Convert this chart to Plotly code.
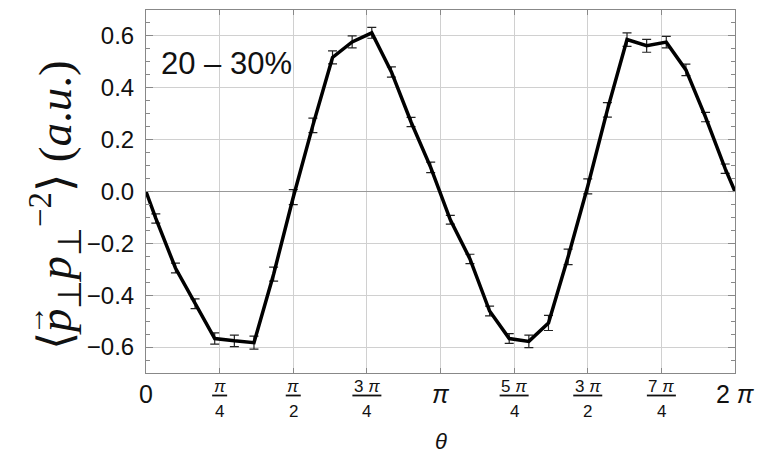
import numpy as np
import plotly.graph_objects as go

# Bin centres (degrees) and measured mean values with their uncertainties
theta_deg = [6, 18, 30, 42, 54, 66, 78, 90, 102, 114, 126, 138, 150, 162, 174,
             186, 198, 210, 222, 234, 246, 258, 270, 282, 294, 306, 318, 330, 342, 354]
values = [-0.104, -0.295, -0.433, -0.567, -0.576, -0.583, -0.319, -0.022, 0.255, 0.517,
          0.577, 0.612, 0.461, 0.268, 0.093, -0.109, -0.260, -0.461, -0.567, -0.578,
          -0.507, -0.252, 0.020, 0.315, 0.586, 0.562, 0.576, 0.469, 0.287, 0.088]
errors = [0.018, 0.019, 0.019, 0.022, 0.022, 0.025, 0.027, 0.029, 0.028, 0.025,
          0.023, 0.021, 0.020, 0.018, 0.020, 0.017, 0.018, 0.019, 0.019, 0.024,
          0.029, 0.030, 0.029, 0.028, 0.026, 0.025, 0.022, 0.022, 0.018, 0.018]

# Periodic closure of the curve at 0 and 2π
edge_theta = [0.0, 2 * np.pi]
edge_values = [0.0, 0.0]

x_tickvals = [0, np.pi / 4, np.pi / 2, 3 * np.pi / 4, np.pi,
              5 * np.pi / 4, 3 * np.pi / 2, 7 * np.pi / 4, 2 * np.pi]
# (numerator, denominator) for each x tick; plain labels have no denominator
x_ticklabels = [("0", None), ("π", "4"), ("π", "2"), ("3 π", "4"), ("π", None),
                ("5 π", "4"), ("3 π", "2"), ("7 π", "4"), ("2 π", None)]
y_tickvals = [-0.6, -0.4, -0.2, 0.0, 0.2, 0.4, 0.6]
y_ticktext = ["−0.6", "−0.4", "−0.2", "0.0", "0.2", "0.4", "0.6"]

centrality_label = "20 – 30%"

x_rad = [np.deg2rad(t) for t in theta_deg]
line_x = [edge_theta[0]] + x_rad + [edge_theta[1]]
line_y = [edge_values[0]] + values + [edge_values[1]]

SANS = "Liberation Sans, Arial, sans-serif"
SERIF = "Liberation Serif, Times New Roman, serif"

fig = go.Figure()

fig.add_trace(go.Scatter(
    x=x_rad, y=values, mode="markers",
    marker=dict(size=1, color="rgba(0,0,0,0)"),
    error_y=dict(type="data", array=errors, visible=True,
                 color="#222222", thickness=1.2, width=4.5),
    showlegend=False, hoverinfo="skip",
))
fig.add_trace(go.Scatter(
    x=line_x, y=line_y, mode="lines",
    line=dict(color="black", width=3.5),
    showlegend=False,
))

# Plot area geometry (pixels) used for placing the hand-set labels
L, R, T, B = 146, 37, 10, 88
W, H = 772, 461
plot_w = W - L - R
plot_h = H - T - B


def px(pix):
    """Convert a pixel column of the page into paper x."""
    return (pix - L) / plot_w


def py(pix):
    """Convert a pixel row of the page into paper y."""
    return (H - B - pix) / plot_h


annotations = []
shapes = []
for xv, (num, den) in zip(x_tickvals, x_ticklabels):
    if den is None:
        txt = num.replace("π", "<i>π</i>")
        annotations.append(dict(x=xv, y=py(394), xref="x", yref="paper",
                                text=txt, showarrow=False, xanchor="center",
                                yanchor="middle",
                                font=dict(family=SANS, size=25, color="#111111")))
    else:
        txt = num.replace("π", "<i>π</i>")
        annotations.append(dict(x=xv, y=py(386.5), xref="x", yref="paper",
                                text=txt, showarrow=False, xanchor="center",
                                yanchor="middle",
                                font=dict(family=SANS, size=17, color="#111111")))
        annotations.append(dict(x=xv, y=py(411.5), xref="x", yref="paper",
                                text=den, showarrow=False, xanchor="center",
                                yanchor="middle",
                                font=dict(family=SANS, size=17, color="#111111")))
        half = 7.5 if len(num) == 1 else 14.5
        shapes.append(dict(type="line", xref="x", yref="paper",
                           xsizemode="pixel", xanchor=xv, x0=-half, x1=half,
                           y0=py(395.5), y1=py(395.5),
                           line=dict(color="#111111", width=1.8)))

# x-axis title
annotations.append(dict(x=np.pi, y=py(441), xref="x", yref="paper",
                        text="<i>θ</i>", showarrow=False, xanchor="center",
                        yanchor="middle",
                        font=dict(family=SANS, size=22, color="#111111")))

# y-axis title (rotated), with the vector arrow set over the first p
annotations.append(dict(x=px(55), y=py(205), xref="paper", yref="paper",
                        text="⟨<i>p</i><sub>⊥</sub><i>p</i><sub>⊥</sub><sup>−2</sup>⟩ (<i>a</i>.<i>u</i>.)",
                        textangle=-90, showarrow=False, xanchor="center",
                        yanchor="middle",
                        font=dict(family=SERIF, size=47, color="#111111")))
annotations.append(dict(x=px(33), y=py(320), xref="paper", yref="paper",
                        text="→", textangle=-90, showarrow=False,
                        xanchor="center", yanchor="middle",
                        font=dict(family=SERIF, size=30, color="#111111")))

# centrality class label
annotations.append(dict(x=px(159), y=py(63), xref="paper", yref="paper",
                        text=centrality_label, showarrow=False, xanchor="left",
                        yanchor="middle",
                        font=dict(family=SANS, size=31, color="#111111")))

fig.update_layout(
    width=W, height=H,
    margin=dict(l=L, r=R, t=T, b=B, pad=0),
    paper_bgcolor="white", plot_bgcolor="white",
    annotations=annotations, shapes=shapes,
    xaxis=dict(
        range=[0, 2 * np.pi], tickvals=x_tickvals, showticklabels=False,
        ticks="inside", ticklen=5, tickcolor="#888888",
        showgrid=True, gridcolor="#d0d0d0", gridwidth=1,
        showline=True, linecolor="#888888", linewidth=1, mirror="ticks",
        zeroline=False,
    ),
    yaxis=dict(
        range=[-0.7, 0.7], tickvals=y_tickvals, ticktext=y_ticktext,
        ticks="inside", ticklen=7, tickcolor="#888888",
        minor=dict(dtick=0.05, ticks="inside", ticklen=4, tickcolor="#888888",
                   showgrid=False),
        showgrid=True, gridcolor="#d0d0d0", gridwidth=1,
        showline=True, linecolor="#888888", linewidth=1, mirror="ticks",
        zeroline=True, zerolinecolor="#999999", zerolinewidth=1.3,
        tickfont=dict(family=SANS, size=24, color="#111111"),
        ticklabelstandoff=6,
    ),
)

fig.write_html("out.html")
